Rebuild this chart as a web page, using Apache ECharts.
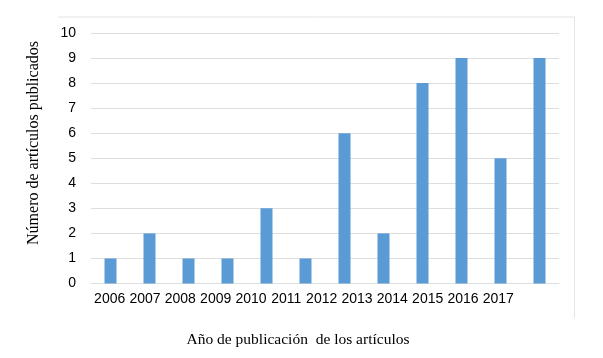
<!DOCTYPE html>
<html>
<head>
<meta charset="utf-8">
<script src="https://cdn.jsdelivr.net/npm/echarts@6/dist/echarts.min.js"></script>
<style>
  html, body { margin: 0; padding: 0; background: #fff; }
  #chart { width: 603px; height: 358px; }
</style>
</head>
<body>
<div id="chart"></div>
<script>
// datos del gráfico
const years = ['2006', '2007', '2008', '2009', '2010', '2011', '2012', '2013', '2014', '2015', '2016', '2017'];
const articles = [1, 2, 1, 1, 3, 1, 6, 2, 8, 9, 5, 9];
const yTicks = [0, 1, 2, 3, 4, 5, 6, 7, 8, 9, 10];

const chart = echarts.init(document.getElementById('chart'));
const sans = '"Liberation Sans", Arial, sans-serif';
const serif = '"Liberation Serif", "Times New Roman", serif';

chart.setOption({
  animation: false,
  // marco claro (solo arriba y a la derecha, como en la figura)
  graphic: [
    { type: 'line', shape: { x1: 58, y1: 17, x2: 575, y2: 17 }, style: { stroke: '#e4e4e4', lineWidth: 1 } },
    { type: 'line', shape: { x1: 574.5, y1: 17, x2: 574.5, y2: 318 }, style: { stroke: '#e4e4e4', lineWidth: 1 } },
    {
      type: 'text', x: 34, y: 143, rotation: Math.PI / 2,
      style: { text: 'Número de artículos publicados', font: '16px ' + serif, fill: '#000', textAlign: 'center', textVerticalAlign: 'middle' }
    },
    {
      type: 'text', x: 298, y: 340,
      style: { text: 'Año de publicación  de los artículos', font: '15.5px ' + serif, fill: '#000', textAlign: 'center', textVerticalAlign: 'middle' }
    }
  ],
  grid: [
    { left: 91, top: 33, width: 468, height: 250.5 },
    // rejilla auxiliar para las etiquetas del eje X (más juntas que las barras)
    { left: 92, top: 33, width: 424, height: 250.5 }
  ],
  xAxis: [
    {
      gridIndex: 0, type: 'category', data: years,
      axisLine: { lineStyle: { color: '#dedede' } },
      axisTick: { show: false },
      axisLabel: { show: false }
    },
    {
      gridIndex: 1, type: 'category', data: years,
      axisLine: { show: false },
      axisTick: { show: false },
      axisLabel: { color: '#000', fontFamily: sans, fontSize: 14, margin: 9, interval: 0 }
    }
  ],
  yAxis: [
    {
      gridIndex: 0, type: 'value', min: yTicks[0], max: yTicks[yTicks.length - 1], interval: 1,
      axisLine: { show: false },
      axisTick: { show: false },
      axisLabel: { color: '#000', fontFamily: sans, fontSize: 14, margin: 15 },
      splitLine: { lineStyle: { color: '#dedede' } }
    },
    {
      gridIndex: 1, type: 'value', min: 0, max: 10, show: false
    }
  ],
  series: [
    {
      type: 'bar', xAxisIndex: 0, yAxisIndex: 0, data: articles,
      barWidth: 12,
      itemStyle: { color: '#5b9bd5' }
    }
  ]
});
</script>
</body>
</html>
